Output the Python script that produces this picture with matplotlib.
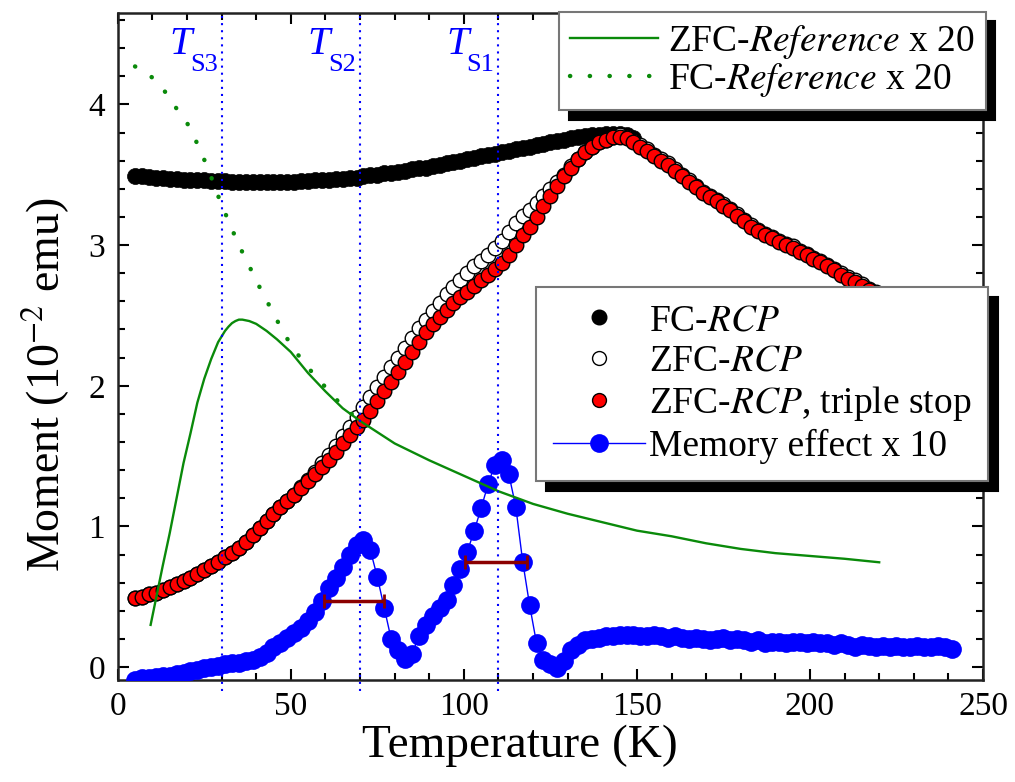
import numpy as np
import matplotlib
matplotlib.use("Agg")
import matplotlib.pyplot as plt
from matplotlib.ticker import MultipleLocator
from matplotlib.lines import Line2D

plt.rcParams['font.family'] = ['Liberation Serif', 'DejaVu Serif']
plt.rcParams['mathtext.fontset'] = 'stix'

# ---------------- data ----------------
T_rcp = np.arange(5, 240, 2)  # 5..239 K
zfc_triple = [0.49, 0.50, 0.52, 0.53, 0.55, 0.57, 0.59, 0.61, 0.63, 0.66,
              0.69, 0.72, 0.75, 0.78, 0.81, 0.85, 0.89, 0.94, 0.99, 1.04,
              1.09, 1.14, 1.18, 1.22, 1.27, 1.32, 1.37, 1.42, 1.47, 1.53,
              1.59, 1.65, 1.71, 1.76, 1.82, 1.89, 1.96, 2.03, 2.10, 2.17,
              2.24, 2.31, 2.38, 2.44, 2.49, 2.54, 2.59, 2.63, 2.67, 2.71,
              2.75, 2.79, 2.83, 2.87, 2.93, 3.00, 3.07, 3.13, 3.20, 3.28,
              3.35, 3.42, 3.49, 3.55, 3.61, 3.66, 3.70, 3.73, 3.75, 3.77,
              3.77, 3.76, 3.73, 3.70, 3.67, 3.63, 3.60, 3.57, 3.53, 3.49,
              3.45, 3.41, 3.37, 3.34, 3.31, 3.28, 3.25, 3.21, 3.17, 3.13,
              3.10, 3.07, 3.05, 3.02, 3.00, 2.98, 2.95, 2.93, 2.90, 2.88,
              2.85, 2.82, 2.79, 2.76, 2.74, 2.71, 2.68, 2.66, 2.63, 2.61,
              2.58, 2.56, 2.53, 2.51, 2.48, 2.46, 2.43, 2.41]
zfc_rcp = [0.49, 0.50, 0.52, 0.53, 0.55, 0.57, 0.59, 0.61, 0.63, 0.66,
           0.69, 0.72, 0.75, 0.78, 0.81, 0.85, 0.89, 0.94, 0.99, 1.04,
           1.09, 1.14, 1.18, 1.22, 1.28, 1.33, 1.39, 1.45, 1.51, 1.57,
           1.64, 1.71, 1.78, 1.85, 1.92, 1.99, 2.06, 2.13, 2.20, 2.27,
           2.34, 2.41, 2.47, 2.53, 2.59, 2.65, 2.70, 2.75, 2.80, 2.85,
           2.89, 2.93, 2.98, 3.03, 3.09, 3.16, 3.21, 3.25, 3.30, 3.35,
           3.40, 3.45, 3.50, 3.56, 3.61, 3.66, 3.70, 3.73, 3.75, 3.77,
           3.78, 3.77, 3.74, 3.71, 3.68, 3.64, 3.61, 3.58, 3.54, 3.50,
           3.46, 3.42, 3.38, 3.35, 3.32, 3.29, 3.26, 3.22, 3.18, 3.14,
           3.11, 3.08, 3.06, 3.03, 3.01, 2.99, 2.96, 2.94, 2.91, 2.89,
           2.86, 2.83, 2.80, 2.77, 2.75, 2.72, 2.69, 2.67, 2.64, 2.62,
           2.59, 2.57, 2.54, 2.52, 2.49, 2.47, 2.44, 2.42]

T_fc = np.arange(5, 150, 2)  # 5..149 K
fc_rcp = [3.49, 3.49, 3.485, 3.48, 3.475, 3.47, 3.47, 3.465, 3.46, 3.46,
          3.46, 3.455, 3.455, 3.455, 3.45, 3.45, 3.45, 3.45, 3.45, 3.45,
          3.45, 3.45, 3.45, 3.45, 3.455, 3.455, 3.46, 3.46, 3.465, 3.47,
          3.47, 3.475, 3.48, 3.49, 3.495, 3.50, 3.51, 3.515, 3.52, 3.53,
          3.54, 3.545, 3.55, 3.56, 3.57, 3.58, 3.59, 3.60, 3.61, 3.62,
          3.63, 3.64, 3.65, 3.66, 3.67, 3.68, 3.69, 3.70, 3.71, 3.72,
          3.73, 3.74, 3.75, 3.76, 3.77, 3.775, 3.78, 3.785, 3.79, 3.79,
          3.79, 3.78, 3.76]

T_mem = np.arange(5, 242, 2)  # 5..241 K
memory = [-0.09, -0.08, -0.08, -0.07, -0.06, -0.06, -0.05, -0.04, -0.03, -0.02,
          -0.01, 0.00, 0.01, 0.02, 0.03, 0.03, 0.04, 0.05, 0.07, 0.10,
          0.14, 0.17, 0.21, 0.24, 0.28, 0.33, 0.39, 0.47, 0.56, 0.63,
          0.71, 0.80, 0.87, 0.90, 0.83, 0.64, 0.42, 0.20, 0.12, 0.06,
          0.09, 0.22, 0.30, 0.36, 0.42, 0.48, 0.58, 0.70, 0.82, 0.97,
          1.13, 1.30, 1.44, 1.47, 1.37, 1.14, 0.75, 0.44, 0.17, 0.05,
          0.02, -0.01, 0.04, 0.12, 0.16, 0.19, 0.20, 0.21, 0.22, 0.22,
          0.23, 0.23, 0.23, 0.22, 0.22, 0.23, 0.22, 0.21, 0.22, 0.21,
          0.20, 0.21, 0.20, 0.19, 0.20, 0.21, 0.19, 0.20, 0.19, 0.18,
          0.19, 0.17, 0.18, 0.18, 0.17, 0.18, 0.18, 0.17, 0.18, 0.17,
          0.17, 0.16, 0.17, 0.16, 0.14, 0.16, 0.15, 0.14, 0.15, 0.14,
          0.15, 0.14, 0.14, 0.15, 0.14, 0.14, 0.15, 0.14, 0.13]

T_zfc_ref = [9.5, 11, 13, 15, 17, 19, 21, 23, 25, 27, 29, 31, 32, 33, 34, 35, 36, 37,
             38, 40, 43, 46, 50, 55, 60, 65, 70, 75, 80, 90, 100, 110, 120, 130, 140,
             150, 160, 170, 180, 190, 200, 210, 220]
zfc_ref = [0.30, 0.48, 0.72, 0.95, 1.20, 1.45, 1.66, 1.88, 2.05, 2.19, 2.31, 2.39,
           2.42, 2.445, 2.46, 2.47, 2.47, 2.465, 2.46, 2.44, 2.39, 2.33, 2.24, 2.09,
           1.96, 1.84, 1.75, 1.67, 1.59, 1.47, 1.36, 1.25, 1.16, 1.09, 1.03, 0.97,
           0.93, 0.88, 0.84, 0.81, 0.79, 0.77, 0.745]

T_fc_ref = [5, 8, 11, 14, 17, 20, 23, 26, 29, 32, 35, 38, 41, 44, 47, 50, 53, 56,
            60, 64, 68]
fc_ref = [4.27, 4.23, 4.17, 4.08, 3.97, 3.87, 3.72, 3.55, 3.35, 3.17, 3.00, 2.85,
          2.70, 2.56, 2.42, 2.29, 2.19, 2.10, 1.99, 1.88, 1.79]

# stop temperatures and memory-width bars
T_stops = [30, 70, 110]
stop_subs = ['S3', 'S2', 'S1']
bar_center = [68.3, 109.2]
bar_y = [0.47, 0.745]
bar_halfwidth = [8.7, 9.0]

# ---------------- figure ----------------
fig = plt.figure(figsize=(10.15, 7.82), dpi=100)
ax = fig.add_axes([0.116, 0.1304, 0.8525, 0.853])

green = '#0a8a0a'
dotted_green = (0, (0.05, 4.4))
ax.plot(T_fc, fc_rcp, 'o', color='black', ms=11.5, mec='black', mew=0.5, zorder=2)
ax.plot(T_rcp, zfc_rcp, 'o', mfc='white', mec='black', ms=10.5, mew=1.0, zorder=3)
ax.plot(T_rcp, zfc_triple, 'o', mfc='red', mec='black', ms=10.5, mew=1.0, zorder=4)
ax.plot(T_mem, memory, '-o', color='blue', lw=1.0, ms=13.5, mec='blue', mew=0, zorder=5)
ax.plot(T_zfc_ref, zfc_ref, '-', color=green, lw=1.7, zorder=6)
ax.plot(T_fc_ref, fc_ref, color=green, lw=3.2, linestyle=dotted_green,
        dash_capstyle='round', zorder=6)

for t in T_stops:
    ax.plot([t, t], [-0.17, 4.65], color='blue', lw=1.5, linestyle=(0, (1.0, 2.4)),
            clip_on=False, zorder=7)

for t, sub in zip(T_stops, stop_subs):
    ax.annotate(sub, xy=(t, 4.24), xytext=(-4, 0), textcoords='offset pixels',
                ha='right', va='baseline', fontsize=19, color='blue', zorder=8)
    ax.annotate('T', xy=(t, 4.24), xytext=(-30, 17), textcoords='offset pixels',
                ha='right', va='baseline', fontsize=29, style='italic', color='blue',
                zorder=8)

ax.errorbar(bar_center, bar_y, xerr=bar_halfwidth, fmt='none', ecolor='#8b0000',
            elinewidth=2.5, capsize=5, capthick=2.0, zorder=8)

ax.set_xlim(0, 250)
ax.set_ylim(-0.092, 4.65)
ax.xaxis.set_major_locator(MultipleLocator(50))
ax.xaxis.set_minor_locator(MultipleLocator(10))
ax.yaxis.set_major_locator(MultipleLocator(1))
ax.yaxis.set_minor_locator(MultipleLocator(0.2))
ax.tick_params(which='both', direction='in', top=True, right=True, width=1.5,
               labelsize=24, colors='black')
ax.tick_params(which='major', length=8)
ax.tick_params(which='minor', length=5)
ax.tick_params(axis='x', pad=8)
ax.tick_params(axis='y', pad=9)
for s in ax.spines.values():
    s.set_linewidth(1.8)
    s.set_color('#222222')

ax.set_xlabel('Temperature (K)', fontsize=34)
ax.xaxis.set_label_coords(0.465, -0.066)
ax.set_ylabel(r'Moment (10$^{\mathrm{-2}}$ emu)', fontsize=33)
ax.yaxis.set_label_coords(-0.053, 0.442)

# legend 1
h1 = [Line2D([], [], color=green, lw=1.7),
      Line2D([], [], color=green, lw=3.2, linestyle=dotted_green, dash_capstyle='round')]
l1 = [r'ZFC-$\mathit{Reference}$ x 20', r'FC-$\mathit{Reference}$ x 20']
shadow = {'ox': 7, 'oy': -7, 'facecolor': 'black', 'edgecolor': 'black', 'alpha': 1}
leg1 = ax.legend(h1, l1, loc='upper right', bbox_to_anchor=(1.003, 1.002),
                 fontsize=27, frameon=True, fancybox=False, shadow=shadow,
                 edgecolor='#777777', framealpha=1, borderaxespad=0,
                 handlelength=2.35, handletextpad=0.25, labelspacing=0.0,
                 borderpad=0.3)
leg1.get_frame().set_linewidth(1.5)
ax.add_artist(leg1)

# legend 2
h2 = [Line2D([], [], ls='none', marker='o', color='black', ms=10.5),
      Line2D([], [], ls='none', marker='o', mfc='white', mec='black', ms=10, mew=1.0),
      Line2D([], [], ls='none', marker='o', mfc='red', mec='black', ms=10, mew=1.0),
      Line2D([], [], ls='-', marker='o', color='blue', lw=1.0, ms=13.5, mew=0)]
l2 = [r'FC-$\mathit{RCP}$', r'ZFC-$\mathit{RCP}$', r'ZFC-$\mathit{RCP}$, triple stop',
      'Memory effect x 10']
leg2 = ax.legend(h2, l2, loc='upper right', bbox_to_anchor=(1.006, 0.589),
                 fontsize=27, frameon=True, fancybox=False, shadow=shadow,
                 edgecolor='#777777', framealpha=1, borderaxespad=0,
                 handlelength=2.45, handletextpad=0.1, labelspacing=0.15,
                 borderpad=0.45)
leg2.get_frame().set_linewidth(1.5)
leg2.set_zorder(10)
leg1.set_zorder(10)

fig.savefig('out.png', dpi=100)
